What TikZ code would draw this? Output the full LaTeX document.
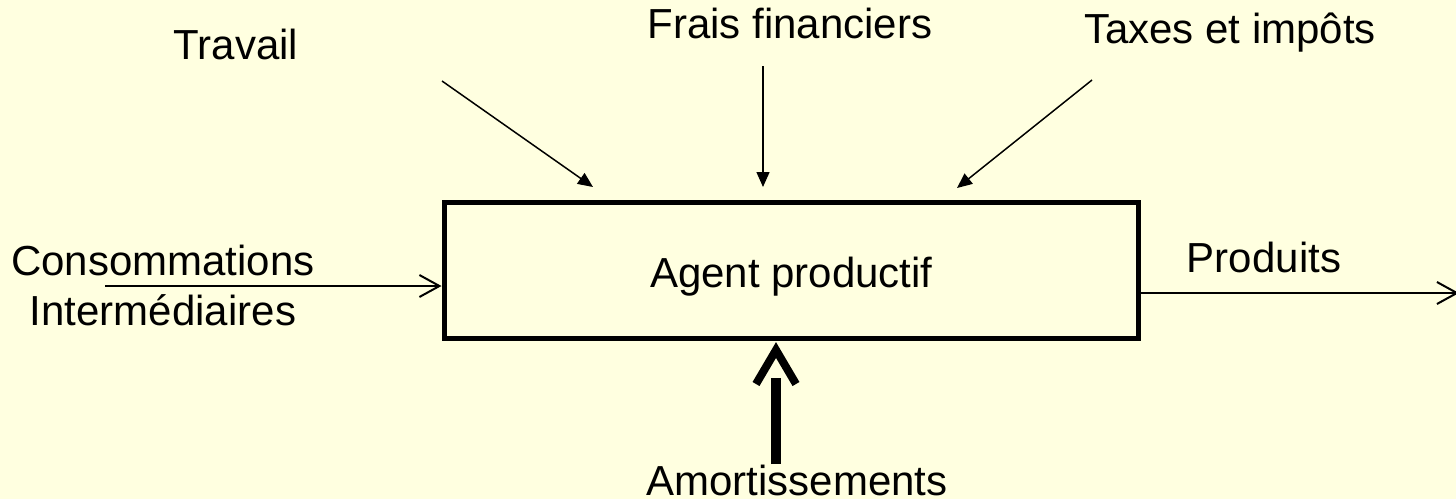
\documentclass[tikz,border=0pt]{standalone}
\usepackage{fontspec}
\setmainfont{Liberation Sans}
\usepackage{tikz}
\usetikzlibrary{positioning, arrows.meta, calc}
\definecolor{slidebg}{RGB}{255,255,224}

\begin{document}
\begin{tikzpicture}[
    x=0.5pt, y=-0.5pt,
    every node/.style={font=\fontsize{21pt}{25pt}\selectfont, inner sep=0pt},
    txt/.style={anchor=base},
    agent/.style={draw, line width=2.5pt, minimum width=347.25pt, minimum height=68.25pt,
                  text height=16.75pt, text depth=0pt},
    feed/.style={line width=0.75pt, -{Triangle[length=7.5pt, width=6.5pt]}},
    flow/.style={line width=0.75pt, -{Straight Barb[length=10pt, width=11pt, line width=1pt]}},
    shaft/.style={line width=5pt},
    barb/.style={line width=4pt, line join=miter, line cap=butt}
]
    \useasboundingbox (0,0) rectangle (1456,499);
    \fill[slidebg] (0,0) rectangle (1456,499);

    % the producing agent in the middle
    \node[agent] (box) at (791.25,270.25) {Agent productif};

    % inputs from above
    \node[txt] (trav)  at (236,59)  {Travail};
    \node[txt] (frais) at (790,38)  {Frais financiers};
    \node[txt] (taxes) at (1230,43) {Taxes et impôts};

    % left input, right output, bottom input
    \node[align=center] (conso) at (163,285) {Consommations\\Intermédiaires};
    \node[txt] (prod)   at (1264,272) {Produits};
    \node[txt] (amort)  at (797,495)  {Amortissements};

    \coordinate (travA)  at (442,81);
    \coordinate (travB)  at (593,187);
    \coordinate (fraisA) at (763,66);
    \coordinate (fraisB) at (763,187);
    \coordinate (taxA)   at (1092,80);
    \coordinate (taxB)   at (957,188);
    \coordinate (ciA)    at (105,286);
    \coordinate (prodB)  at (1459,293);
    \coordinate (shafttop) at (776,378);
    \coordinate (headtip) at ($(box.south -| shafttop)+(0,9)$);

    \draw[feed] (travA) -- (travB);
    \draw[feed] (fraisA) -- (fraisB);
    \draw[feed] (taxA) -- (taxB);

    \draw[flow] (ciA) -- (ciA -| box.west);
    \draw[flow] (prodB -| box.east) -- (prodB);

    % thick arrow with its head set apart from the shaft
    \draw[shaft] (shafttop |- amort.north) -- (shafttop);
    \draw[barb] ($(headtip)+(-20,34)$) -- (headtip) -- ($(headtip)+(20,34)$);
\end{tikzpicture}
\end{document}
